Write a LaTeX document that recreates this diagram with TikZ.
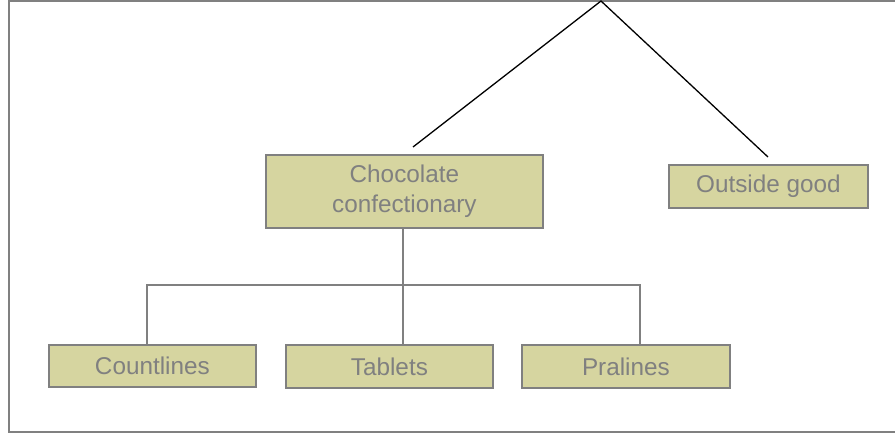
\documentclass[tikz,border=0pt]{standalone}
\usepackage{fontspec}
\setmainfont{Liberation Sans}
\definecolor{boxfill}{RGB}{214,213,160}
\definecolor{boxline}{RGB}{128,128,128}
\definecolor{txtgray}{RGB}{128,128,128}
\tikzset{
  catbox/.style={draw=boxline, line width=1.8pt, fill=boxfill, text=txtgray,
    font=\fontsize{24.3}{30}\selectfont, align=center, inner sep=0pt, anchor=north west},
  treeline/.style={draw=boxline, line width=1.8pt},
  apexline/.style={draw=black, line width=1.3pt}
}
\begin{document}
\begin{tikzpicture}[x=1pt,y=-1pt]
\useasboundingbox (0,0) rectangle (895,434);
\clip (0,0) rectangle (895,434);
\draw[boxline, line width=2pt] (9,1) rectangle (910,432);
% boxes
\node[catbox, minimum width=277pt, minimum height=73pt] (choc) at (265,154) {Chocolate\\confectionary};
\node[catbox, minimum width=199pt, minimum height=43pt] (out) at (668,164) {Outside good};
\node[catbox, minimum width=207pt, minimum height=42pt] (count) at (48,344) {Countlines};
\node[catbox, minimum width=207pt, minimum height=43pt] (tab) at (285,344) {Tablets};
\node[catbox, minimum width=208pt, minimum height=43pt] (pral) at (521,344) {Pralines};
% apex
\coordinate (apex) at (601,1);
\coordinate (lend) at (413,147);
\coordinate (rend) at (768,157);
\draw[apexline] (lend) -- (apex) -- (rend);
% tree
\coordinate (hl) at (147,285);
\coordinate (hr) at (640,285);
\coordinate (vt) at (403,344);
\draw[treeline] (choc.south -| vt) -- (vt);
\draw[treeline] (count.north -| hl) -- (hl) -- (hr) -- (pral.north -| hr);
\end{tikzpicture}
\end{document}
